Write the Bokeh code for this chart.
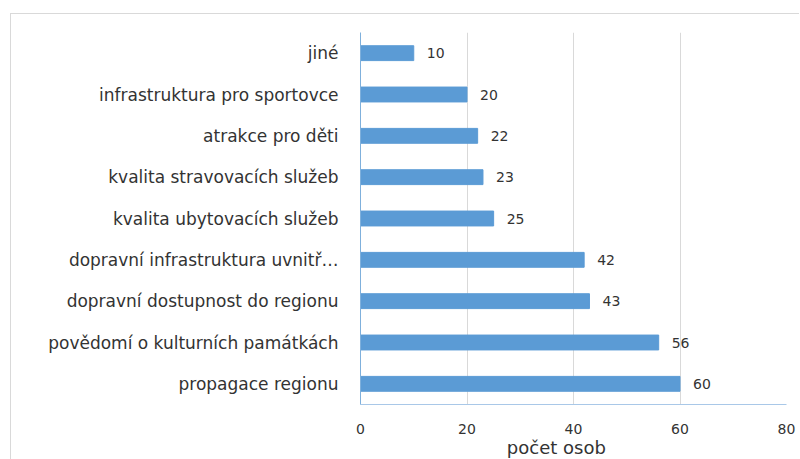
from bokeh.plotting import figure
from bokeh.models import FactorRange, Range1d, FixedTicker, ColumnDataSource
from bokeh.embed import file_html
from bokeh.resources import INLINE
from bokeh.core.properties import value

categories = [
    "jiné",
    "infrastruktura pro sportovce",
    "atrakce pro děti",
    "kvalita stravovacích služeb",
    "kvalita ubytovacích služeb",
    "dopravní infrastruktura uvnitř…",
    "dopravní dostupnost do regionu",
    "povědomí o kulturních památkách",
    "propagace regionu",
]
counts = [10, 20, 22, 23, 25, 42, 43, 56, 60]
x_ticks = [0, 20, 40, 60, 80]
x_title = "počet osob"

FONT = "DejaVu Sans"
TXT = "#333333"
BAR = "#5b9bd5"

src = ColumnDataSource(dict(cat=categories, n=counts, lab=[str(v) for v in counts]))

p = figure(
    width=789, height=446,
    y_range=FactorRange(factors=categories[::-1], range_padding=0),
    x_range=Range1d(0, 80),
    output_backend="svg", toolbar_location=None,
    min_border_left=349, min_border_right=14, min_border_top=18, min_border_bottom=50,
)
p.margin = (13, 0, 0, 10)
p.styles = {"border-top": "1px solid #d9d9d9", "border-left": "1px solid #d9d9d9"}
p.outline_line_color = None

p.hbar(y="cat", right="n", left=0, height=0.36, source=src, color=BAR)
p.text(x="n", y="cat", text="lab", source=src, x_offset=13,
       text_align="left", text_baseline="middle",
       text_font=value(FONT), text_font_size="14px", text_color=TXT)

p.xaxis.ticker = FixedTicker(ticks=x_ticks)
p.xaxis.major_tick_line_color = None
p.xaxis.minor_tick_line_color = None
p.xaxis.axis_line_color = "#a9c8e8"
p.xaxis.major_label_standoff = 13
p.xaxis.major_label_text_font = FONT
p.xaxis.major_label_text_font_size = "14px"
p.xaxis.major_label_text_color = TXT
p.xaxis.axis_label = x_title + "\u2007\u2007\u2007"
p.xaxis.axis_label_standoff = 0
p.xaxis.axis_label_text_font = FONT
p.xaxis.axis_label_text_font_size = "18px"
p.xaxis.axis_label_text_font_style = "normal"
p.xaxis.axis_label_text_color = TXT

p.yaxis.major_tick_line_color = None
p.yaxis.axis_line_color = "#7fb0dc"
p.yaxis.major_label_standoff = 16
p.yaxis.major_label_text_font = FONT
p.yaxis.major_label_text_font_size = "17px"
p.yaxis.major_label_text_color = TXT

p.xgrid.grid_line_color = "#d9d9d9"
p.xgrid.ticker = FixedTicker(ticks=x_ticks[1:])
p.ygrid.grid_line_color = None

open("out.html", "w").write(file_html(p, INLINE))
